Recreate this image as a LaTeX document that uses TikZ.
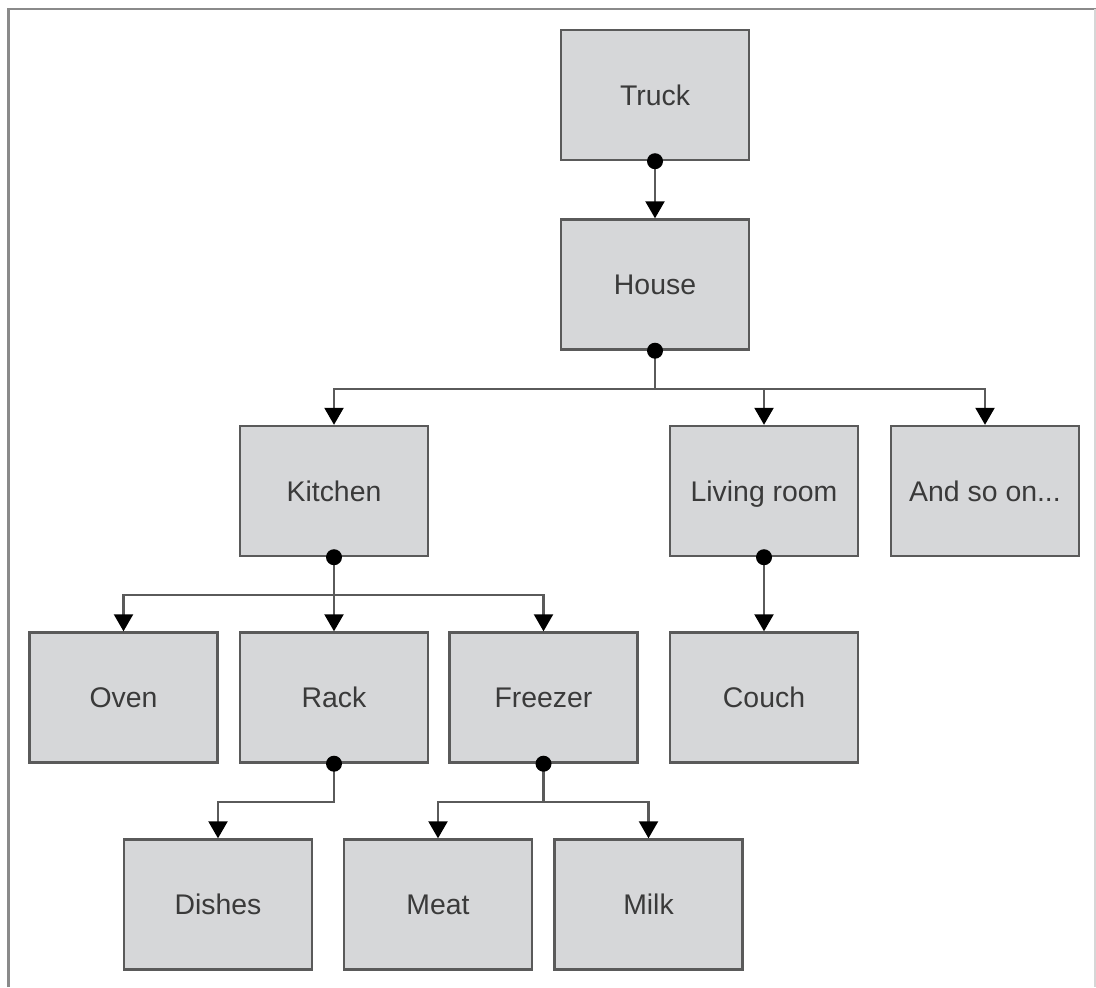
\documentclass[tikz,border=0pt]{standalone}
\usepackage{fontspec}
\setmainfont{Liberation Sans}
\usetikzlibrary{arrows.meta}
\definecolor{boxfill}{HTML}{D6D7D9}
\definecolor{boxline}{HTML}{5A5A5A}
\definecolor{txt}{HTML}{3A3A3A}
\definecolor{frame}{HTML}{8A8A8A}
\definecolor{conn}{HTML}{5A5A5A}
\tikzset{
  item/.style={draw=boxline, fill=boxfill, line width=1.2pt, minimum width=94pt, minimum height=65pt, inner sep=0pt, text=txt, text height=10pt, text depth=0pt, font=\fontsize{14.2}{17}\selectfont},
  link/.style={draw=conn, line width=1.1pt, -{Triangle[width=9.5pt,length=8.5pt,fill=black,color=black]}},
  dot/.style={fill=black, circle, inner sep=0pt, minimum size=8pt}
}
\begin{document}
\begin{tikzpicture}[x=0.5pt,y=-0.5pt]
\useasboundingbox (0,0) rectangle (1096,987);
% frame
\draw[frame, line width=1.3pt] (8.5,987) -- (8.5,9) -- (1096,9);
\draw[frame!35, line width=1pt] (1095,9) -- (1095,987);
% nodes
\node[item] (truck)   at (655,95)    {Truck};
\node[item] (house)   at (655,284.5) {House};
\node[item] (kitchen) at (334,491)   {Kitchen};
\node[item] (living)  at (764,491)   {Living room};
\node[item] (andso)   at (985,491)   {And so on...};
\node[item] (oven)    at (123.5,697.5) {Oven};
\node[item] (rack)    at (334,697.5) {Rack};
\node[item] (freezer) at (543.5,697.5) {Freezer};
\node[item] (couch)   at (764,697.5) {Couch};
\node[item] (dishes)  at (218,904.5) {Dishes};
\node[item] (meat)    at (438,904.5) {Meat};
\node[item] (milk)    at (648.5,904.5) {Milk};
% bus levels
\coordinate (busA) at (0,389);
\coordinate (busB) at (0,595);
\coordinate (busC) at (0,802);
% connectors
\draw[link] (truck.south) -- (house.north);
\draw[link] (house.south) -- (house.south |- busA) -| (kitchen.north);
\draw[link] (house.south |- busA) -| (living.north);
\draw[link] (house.south |- busA) -| (andso.north);
\draw[link] (kitchen.south) -- (rack.north);
\draw[link] (kitchen.south |- busB) -| (oven.north);
\draw[link] (kitchen.south |- busB) -| (freezer.north);
\draw[link] (living.south) -- (couch.north);
\draw[link] (rack.south) -- (rack.south |- busC) -| (dishes.north);
\draw[link] (freezer.south) -- (freezer.south |- busC) -| (meat.north);
\draw[link] (freezer.south |- busC) -| (milk.north);
% dots
\node[dot] (d1) at (truck.south) {};
\node[dot] (d2) at (house.south) {};
\node[dot] (d3) at (kitchen.south) {};
\node[dot] (d4) at (living.south) {};
\node[dot] (d5) at (rack.south) {};
\node[dot] (d6) at (freezer.south) {};
\end{tikzpicture}
\end{document}
